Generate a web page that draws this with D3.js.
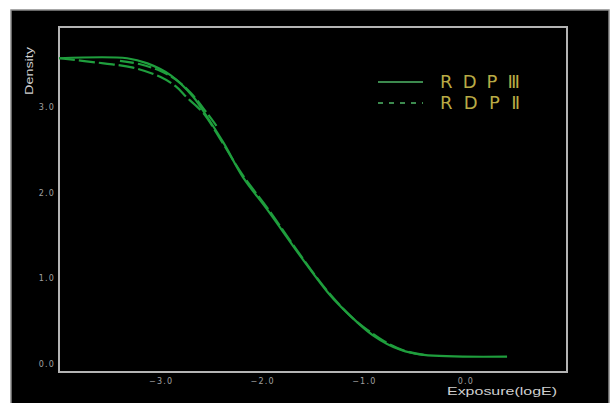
<!DOCTYPE html>
<html>
<head>
<meta charset="utf-8">
<script src="https://cdn.jsdelivr.net/npm/d3@7/dist/d3.min.js"></script>
<style>
  html, body { margin: 0; padding: 0; background: #fff; }
  svg { display: block; }
</style>
</head>
<body>
<svg id="chart" width="612" height="403"></svg>
<script>
// Characteristic curves: density vs. exposure (logE)
const rdp3LogE = [-4.0, -3.33, -3.13, -2.90, -2.68, -2.54, -2.38, -2.19, -1.95, -1.62, -1.36, -1.23, -0.91, -0.64, -0.41, 0.41];
const rdp3D    = [3.57, 3.57, 3.51, 3.37, 3.12, 2.88, 2.58, 2.18, 1.80, 1.25, 0.84, 0.67, 0.33, 0.16, 0.10, 0.08];

const rdp2aLogE = [-4.0, -3.56, -3.27, -3.00, -2.85, -2.74, -2.58, -2.40, -2.19, -1.95, -1.62, -1.36, -1.10, -0.95, -0.80, -0.60, -0.41];
const rdp2aD    = [3.57, 3.51, 3.46, 3.35, 3.24, 3.11, 2.93, 2.60, 2.20, 1.82, 1.26, 0.85, 0.52, 0.38, 0.26, 0.15, 0.10];

const rdp2bLogE = [-3.40, -3.20, -3.00, -2.85, -2.70, -2.55, -2.45];
const rdp2bD    = [3.54, 3.50, 3.42, 3.32, 3.16, 2.94, 2.78];

const xTicks = [-3.0, -2.0, -1.0, 0.0];
const yTicks = [0.0, 1.0, 2.0, 3.0];
const legendLabels = ["R D P \u2162", "R D P \u2161"];

const svg = d3.select("#chart");

// Black panel with grey rim
svg.append("rect")
  .attr("x", 11).attr("y", 10).attr("width", 598).attr("height", 400)
  .attr("fill", "#000").attr("stroke", "#8a8a8a").attr("stroke-width", 1.5);

const plot = { left: 59, right: 567, top: 27, bottom: 372 };

const x = d3.scaleLinear().domain([-4.0, 1.0]).range([plot.left, plot.right]);
const y = d3.scaleLinear().domain([0, 3]).range([363.5, 107]);

// Plot frame
svg.append("rect")
  .attr("x", plot.left).attr("y", plot.top)
  .attr("width", plot.right - plot.left).attr("height", plot.bottom - plot.top)
  .attr("fill", "none").attr("stroke", "#b4b4b4").attr("stroke-width", 2);

// Axes (labels only, no tick marks)
const xAxis = d3.axisBottom(x).tickValues(xTicks).tickFormat(d3.format(".1f")).tickSize(0).tickPadding(6);
const gx = svg.append("g").attr("transform", `translate(0,${plot.bottom})`).call(xAxis);
const yAxis = d3.axisLeft(y).tickValues(yTicks).tickFormat(d3.format(".1f")).tickSize(0).tickPadding(4);
const gy = svg.append("g").attr("transform", `translate(${plot.left},0)`).call(yAxis);
[gx, gy].forEach(g => {
  g.select(".domain").remove();
  g.selectAll("text")
    .attr("fill", "#a0a0a0")
    .style("font-family", "DejaVu Sans, sans-serif")
    .style("font-size", "8px")
    .style("letter-spacing", "1.2px");
});

// Axis titles
svg.append("text")
  .attr("transform", "translate(33,71) rotate(-90)")
  .attr("text-anchor", "middle")
  .attr("fill", "#d0d0d0")
  .attr("textLength", 48)
  .attr("lengthAdjust", "spacingAndGlyphs")
  .style("font-family", "Liberation Sans, sans-serif")
  .style("font-size", "11px")
  .text("Density");

svg.append("text")
  .attr("x", 447).attr("y", 395)
  .attr("fill", "#d0d0d0")
  .attr("textLength", 110)
  .attr("lengthAdjust", "spacingAndGlyphs")
  .style("font-family", "Liberation Sans, sans-serif")
  .style("font-size", "11.5px")
  .text("Exposure(logE)");

// Curves
const green = "#1f9e3d";
const line = d3.line().x(d => x(d[0])).y(d => y(d[1])).curve(d3.curveCatmullRom.alpha(0.5));
const zip = (a, b) => a.map((v, i) => [v, b[i]]);

svg.append("path")
  .datum(zip(rdp2bLogE, rdp2bD))
  .attr("d", line).attr("fill", "none")
  .attr("stroke", green).attr("stroke-width", 2.2)
  .attr("stroke-dasharray", "14,4");

svg.append("path")
  .datum(zip(rdp2aLogE, rdp2aD))
  .attr("d", line).attr("fill", "none")
  .attr("stroke", green).attr("stroke-width", 2.2)
  .attr("stroke-dasharray", "16,4");

svg.append("path")
  .datum(zip(rdp3LogE, rdp3D))
  .attr("d", line).attr("fill", "none")
  .attr("stroke", green).attr("stroke-width", 2.2);

// Legend
const legendGreen = "#3c8a4e";
const legendRows = [
  { y: 82, dash: null },
  { y: 103, dash: "5,6" }
];
legendRows.forEach((row, i) => {
  svg.append("line")
    .attr("x1", 378).attr("x2", 423).attr("y1", row.y).attr("y2", row.y)
    .attr("stroke", legendGreen).attr("stroke-width", 2)
    .attr("stroke-dasharray", row.dash);
  svg.append("text")
    .attr("x", 440).attr("y", row.y + 6)
    .attr("fill", "#b9ab45")
    .attr("textLength", 80)
    .attr("lengthAdjust", "spacing")
    .style("font-family", "DejaVu Sans, sans-serif")
    .style("font-size", "18px")
    .text(legendLabels[i]);
});
</script>
</body>
</html>
